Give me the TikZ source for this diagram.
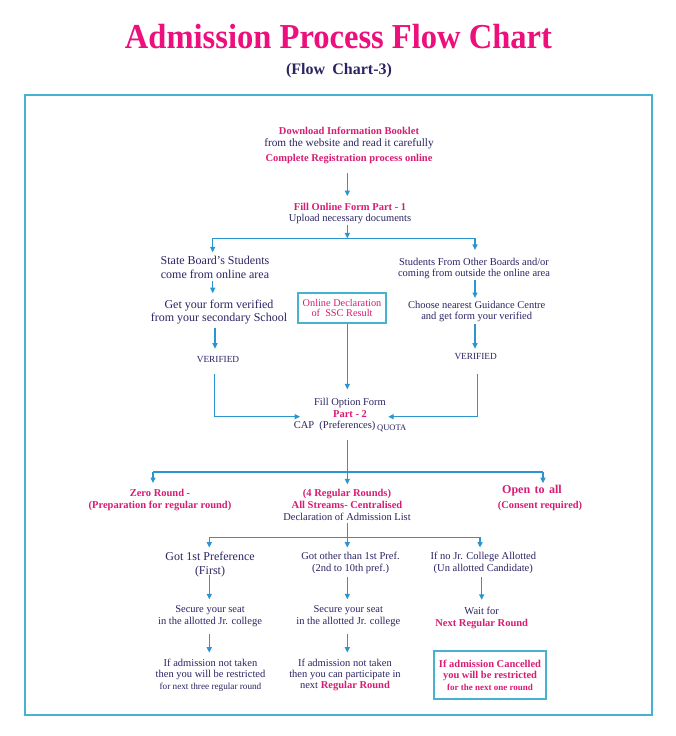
\documentclass[tikz,border=0pt]{standalone}
\usepackage{fontspec}
\usepackage{graphicx}
\setmainfont{Liberation Serif}
\usetikzlibrary{arrows.meta}
\definecolor{tpink}{HTML}{EC0F7C}
\definecolor{pk}{HTML}{D81C74}
\definecolor{nv}{HTML}{2A2463}
\definecolor{ab}{HTML}{2B95CF}
\definecolor{fr}{HTML}{45B3CF}
\newcommand\pinkb[1]{\textcolor{pk}{\bfseries #1}}
\begin{document}
\begin{tikzpicture}[x=1pt,y=-1pt,
  txt/.style={inner sep=0pt, align=center, text=nv, font=\fontsize{10.5}{11.7}\selectfont},
  big/.style={txt, font=\fontsize{12}{13.3}\selectfont},
  pkb/.style={txt, text=pk, font=\fontsize{10.5}{12}\selectfont\bfseries},
  arr/.style={draw=ab, line width=1.3pt, -{Triangle[length=5.5pt,width=5pt]}},
  ln/.style={draw=ab, line width=1.3pt},
  boxc/.style={draw=fr, line width=1.6pt, inner sep=0pt, align=center}]
\useasboundingbox (0,0) rectangle (675,736);
\fill[white] (0,0) rectangle (675,736);

% titles
\node[anchor=base, text=tpink, inner sep=0pt] (title) at (338.5,48)
  {\fontsize{35}{40}\selectfont\bfseries\scalebox{0.93}[1]{Admission Process Flow Chart}};
\node[anchor=base, text=nv, inner sep=0pt] (sub) at (339,74)
  {\fontsize{16}{18}\selectfont\bfseries (Flow\hspace{0.45em}Chart-3)};

% frame
\draw[fr, line width=2pt] (25,94.5) rectangle (651.7,714.5);

% top blocks
\node[txt, font=\fontsize{10.5}{12}\selectfont] (b1) at (349,145.5)
  {\pinkb{Download Information Booklet}\\ {\fontsize{11.3}{12}\selectfont from the website and read it carefully}\\[3.3pt] \pinkb{Complete Registration process online}};
\node[txt] (b2) at (350,213.5) {\pinkb{Fill Online Form Part - 1}\\ Upload necessary documents};

\coordinate (j1) at (347.3,238.3);
\coordinate (jl) at (212.7,238.3);
\coordinate (jr) at (475,238.3);

% left column
\node[big] (sb) at (215,267.5) {State Board\symbol{"27}s Students\\ come from online area};
\node[big] (gv) at (219,312) {Get your form verified\\ from your secondary School};
\node[txt, font=\fontsize{9.3}{10}\selectfont] (v1) at (218,360) {VERIFIED};

% middle box
\node[boxc, minimum width=88pt, minimum height=30pt, text=pk, font=\fontsize{10.3}{10.8}\selectfont] (od) at (342,308)
  {Online Declaration\\ of\ \ SSC Result};

% right column
\node[txt, font=\fontsize{10.5}{11}\selectfont] (so) at (474,268) {Students From Other Boards and/or\\ coming from outside the online area};
\node[txt, font=\fontsize{10.5}{11}\selectfont] (cg) at (476.7,311.2) {Choose nearest Guidance Centre\\ and get form your verified};
\node[txt, font=\fontsize{9.3}{10}\selectfont] (v2) at (475.7,356.7) {VERIFIED};

% option form
\node[txt] (fo) at (350,415) {Fill Option Form\\ \pinkb{Part - 2}\\ CAP~ (Preferences)\,\raisebox{-1.5pt}{\fontsize{8.5}{9}\selectfont QUOTA}};

% rounds
\coordinate (j2) at (347.3,472);
\coordinate (j2l) at (153,472);
\coordinate (j2r) at (543,472);
\node[pkb] (zr) at (160,500) {Zero Round -\\ (Preparation for regular round)};
\node[txt] (rr) at (347,505) {\pinkb{(4 Regular Rounds)}\\ \pinkb{All Streams- Centralised}\\ Declaration of Admission List};
\node[pkb, font=\fontsize{10.4}{15}\selectfont\bfseries] (oa) at (540,497.5)
  {{\fontsize{12}{14}\selectfont Open\hspace{4.5pt}to\hspace{4.5pt}all}\hspace*{16pt}\\ (Consent required)};

% allotment
\coordinate (j3) at (347.3,537.3);
\coordinate (j3l) at (209.3,537.3);
\coordinate (j3r) at (480,537.3);
\node[big, font=\fontsize{12}{14}\selectfont] (g1) at (210,565) {Got 1st Preference\\ (First)};
\node[txt, font=\fontsize{10.5}{12}\selectfont] (g2) at (350.5,563) {Got other than 1st Pref.\\ (2nd to 10th pref.)};
\node[txt, font=\fontsize{10.5}{12}\selectfont] (g3) at (483.3,563) {If no Jr. College Allotted\\ (Un allotted Candidate)};

\node[txt] (s1) at (210,616) {Secure your seat\\ in the allotted Jr. college};
\node[txt] (s2) at (348.3,616) {Secure your seat\\ in the allotted Jr. college};
\node[txt, font=\fontsize{10.5}{12.3}\selectfont] (w3) at (481.7,618) {Wait for\\ \pinkb{Next Regular Round}};

\node[txt, font=\fontsize{10.5}{11.4}\selectfont] (r1) at (210.5,675) {If admission not taken\\ then you will be restricted\\ {\fontsize{9.2}{10}\selectfont for next three regular round}};
\node[txt, font=\fontsize{10.5}{11.4}\selectfont] (r2) at (345,675) {If admission not taken\\ then you can participate in\\ next \pinkb{Regular Round}};
\node[boxc, minimum width=112pt, minimum height=48pt, text=pk, font=\fontsize{10.5}{11.5}\selectfont\bfseries] (r3) at (490,675)
  {If admission Cancelled\\ you will be restricted\\ {\fontsize{9}{10}\selectfont for the next one round}};

% connectors
\draw[arr] ([xshift=-1.7pt,yshift=-8.7pt]b1.south) -- ([xshift=-2.7pt,yshift=6.5pt]b2.north);
\draw[arr] ([xshift=-2.7pt,yshift=-0.5pt]b2.south) -- (j1);
\draw[ln] (jl) -- (jr);
\draw[arr] (jl) -- ([xshift=-2.3pt,yshift=4pt]sb.north);
\draw[arr] (jr) -- ([xshift=1pt,yshift=7.6pt]so.north);

\draw[arr] ([xshift=-2.3pt,yshift=-2.4pt]sb.south) -- ([xshift=-6.3pt,yshift=6.4pt]gv.north);
\draw[arr] ([xshift=-4pt,yshift=-3.2pt]gv.south) -- ([xshift=-3pt,yshift=8pt]v1.north);
\draw[arr] ([xshift=-3.7pt,yshift=-10.3pt]v1.south) |- ([xshift=6.5pt,yshift=-1.7pt]fo.west);

\draw[arr] ([xshift=1pt,yshift=-1.9pt]so.south) -- ([xshift=-1.7pt,yshift=2.7pt]cg.north);
\draw[arr] ([xshift=-1.7pt,yshift=-2.1pt]cg.south) -- ([xshift=-0.7pt,yshift=4.7pt]v2.north);
\draw[arr] ([xshift=1.6pt,yshift=-13.6pt]v2.south) |- ([xshift=-18.2pt,yshift=-1.7pt]fo.east);

\draw[arr] ([xshift=5.3pt]od.south) -- ([xshift=-2.7pt,yshift=8.6pt]fo.north);

\draw[ln] ([xshift=-2.7pt,yshift=-7.8pt]fo.south) -- (j2);
\draw[ln] (j2l) -- (j2r);
\draw[arr] (j2l) -- ([xshift=-7pt,yshift=6pt]zr.north);
\draw[arr] (j2) -- ([xshift=0.3pt,yshift=5pt]rr.north);
\draw[arr] (j2r) -- ([xshift=3pt,yshift=1.4pt]oa.north);

\draw[ln] ([xshift=0.3pt,yshift=-2.3pt]rr.south) -- (j3);
\draw[ln] (j3l) -- (j3r);
\draw[arr] (j3l) -- ([xshift=-0.7pt,yshift=4.8pt]g1.north);
\draw[arr] (j3) -- ([xshift=-3.2pt,yshift=4.4pt]g2.north);
\draw[arr] (j3r) -- ([xshift=-3.3pt,yshift=4.4pt]g3.north);

\draw[arr] ([xshift=-0.7pt,yshift=2.9pt]g1.south) -- ([xshift=-0.7pt,yshift=6pt]s1.north);
\draw[arr] ([xshift=-3.2pt,yshift=-3.1pt]g2.south) -- ([xshift=-1pt,yshift=6pt]s2.north);
\draw[arr] ([xshift=-1.6pt,yshift=-3.1pt]g3.south) -- ([yshift=7pt]w3.north);

\draw[arr] ([xshift=-0.7pt,yshift=-7.8pt]s1.south) -- ([xshift=-1.2pt,yshift=6pt]r1.north);
\draw[arr] ([xshift=-1pt,yshift=-7.8pt]s2.south) -- ([xshift=2.3pt,yshift=6pt]r2.north);
\end{tikzpicture}
\end{document}
